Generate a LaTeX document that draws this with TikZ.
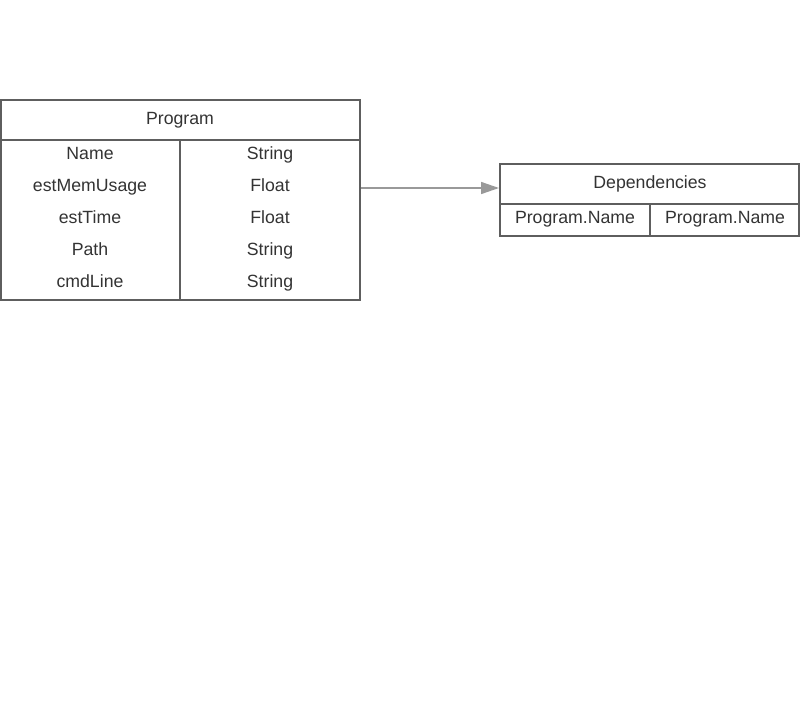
\documentclass[tikz,border=0pt]{standalone}
\usepackage{fontspec}
\setmainfont{Liberation Sans}
\usetikzlibrary{arrows.meta}
\definecolor{bordc}{HTML}{5E5E5E}
\definecolor{txtc}{HTML}{333333}
\definecolor{arrc}{HTML}{999999}
\tikzset{
  frame/.style={draw=bordc, line width=2pt},
  lbl/.style={text=txtc, font=\fontsize{17.7}{20}\selectfont, anchor=base, inner sep=0pt},
  conn/.style={draw=arrc, line width=1.5pt, -{Triangle[length=18pt,width=12pt]}}
}
\begin{document}
\begin{tikzpicture}[x=1pt,y=-1pt]
\useasboundingbox (0,0) rectangle (800,720);
% Program table
\draw[frame] (1,100) rectangle (360,300);
\draw[frame] (1,140) -- (360,140);
\draw[frame] (180,140) -- (180,300);
\node[lbl] (pht) at (180,124) {Program};
\foreach \i/\n/\t in {0/Name/String,1/estMemUsage/Float,2/estTime/Float,3/Path/String,4/cmdLine/String}{
  \node[lbl] (kt\i) at (90,159.5+32*\i) {\n};
  \node[lbl] (vt\i) at (270,159.5+32*\i) {\t};
}
\coordinate (progR) at (361,188);
% Dependencies table
\draw[frame] (500,164) rectangle (799,236);
\draw[frame] (500,204) -- (799,204);
\draw[frame] (650,204) -- (650,236);
\node[lbl] (dht) at (650,188) {Dependencies};
\node[lbl] (d1) at (575,223.5) {Program.Name};
\node[lbl] (d2) at (725,223.5) {Program.Name};
\coordinate (depL) at (499,188);
% connector
\draw[conn] (progR) -- (depL);
\end{tikzpicture}
\end{document}
